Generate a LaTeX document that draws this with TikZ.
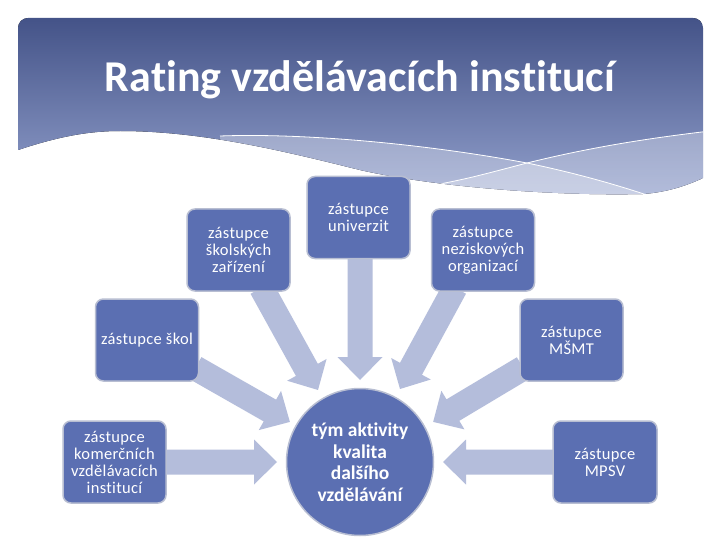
\documentclass[tikz,border=0pt]{standalone}
\usepackage{fontspec}
\setmainfont[Ligatures=NoCommon]{Carlito}
\newfontfamily\boxfont[LetterSpace=2,Ligatures=NoCommon]{Carlito}
\usetikzlibrary{calc}
\definecolor{boxblue}{RGB}{91,111,178}
\definecolor{boxedge}{RGB}{184,190,210}
\definecolor{arrowcol}{RGB}{180,189,219}
\definecolor{headtop}{RGB}{68,83,136}
\definecolor{headbot}{RGB}{146,160,204}
\pgfdeclarelayer{bg}
\pgfdeclarelayer{arrows}
\pgfsetlayers{bg,arrows,main}
\newcommand\blockarr[2]{%
  \fill[arrowcol] let \p1=(#1), \p2=(#2), \n1={atan2(\y2-\y1,\x2-\x1)}, \n2={veclen(\x2-\x1,\y2-\y1)} in
  [shift={(\p1)}, rotate=\n1]
  (0pt,-12.5pt) -- (\n2-23pt,-12.5pt) -- (\n2-23pt,-22.5pt) -- (\n2,0pt)
  -- (\n2-23pt,22.5pt) -- (\n2-23pt,12.5pt) -- (0pt,12.5pt) -- cycle;}
\begin{document}
\begin{tikzpicture}[x=1pt,y=-1pt,
  box/.style={draw=boxedge, line width=1.5pt, fill=boxblue, rounded corners=8pt,
    minimum width=103pt, minimum height=82pt, text=white, align=center,
    font=\boxfont\fontsize{16.5}{17}\selectfont, inner sep=2pt},
  hub/.style={circle, draw=boxedge, line width=1.5pt, fill=boxblue, minimum size=147pt,
    inner sep=0pt, text=white, align=center, font=\bfseries\fontsize{19.5}{21.5}\selectfont},
  wline/.style={draw=white, line width=0.8pt},
  veil/.style={fill=white, opacity=0.3}]
\useasboundingbox (0,0) rectangle (720,540);
\begin{pgfonlayer}{bg}
  \fill[white] (0,0) rectangle (720,540);
  \begin{scope}
    \clip (18,150) [rounded corners=10pt] -- (18,18) -- (703,18) [sharp corners] -- (703,178)
      .. controls (690,184) and (670,192) .. (643,194)
      .. controls (560,196) and (440,188) .. (360,170)
      .. controls (280,150) and (200,131) .. (120,131)
      .. controls (90,131) and (60,136) .. (18,150) -- cycle;
    \fill[top color=headtop, bottom color=headbot] (18,18) rectangle (703,196);
    \fill[veil] (220,136) .. controls (300,133) and (420,143) .. (527,163)
      .. controls (580,174) and (620,186) .. (650,196) -- (650,260) -- (220,260) -- cycle;
    \fill[veil] (430,186) .. controls (470,178) .. (527,163)
      .. controls (600,145) and (660,137) .. (710,131) -- (710,260) -- (430,260) -- cycle;
    \draw[wline] (220,136) .. controls (300,133) and (420,143) .. (527,163)
      .. controls (580,174) and (620,186) .. (650,196);
    \draw[wline] (430,186) .. controls (470,178) .. (527,163)
      .. controls (600,145) and (660,137) .. (710,131);
  \end{scope}
\end{pgfonlayer}
\node[text=white, font=\bfseries\fontsize{44}{50}\selectfont, anchor=base, inner sep=0pt] (title) at (360,92) {Rating vzdělávacích institucí};
\node[box] (facil) at (238.5,250) {zástupce\\školských\\zařízení};
\node[box] (univ) at (358.5,217.5) {zástupce\\univerzit};
\node[box] (ngo) at (483,250) {zástupce\\neziskových\\organizací};
\node[box] (schools) at (147,340) {zástupce škol};
\node[box] (msmt) at (571.5,340) {zástupce\\MŠMT};
\node[box] (comm) at (114.5,462) {zástupce\\komerčních\\vzdělávacích\\institucí};
\node[box, minimum width=104pt] (mpsv) at (605,462) {zástupce\\MPSV};
\node[hub] (team) at (360,462) {tým aktivity\\kvalita\\dalšího\\vzdělávání};
\coordinate (tuniv) at (360,380);
\coordinate (tfacil) at (318,390);
\coordinate (tngo) at (400,389);
\coordinate (tschools) at (290,422);
\coordinate (tmsmt) at (433,422);
\coordinate (tcomm) at (277,462);
\coordinate (tmpsv) at (443,462);
\begin{pgfonlayer}{arrows}
  \blockarr{[xshift=1.5pt,yshift=4pt]univ.south}{tuniv}
  \blockarr{[xshift=23pt,yshift=4pt]facil.south}{tfacil}
  \blockarr{[xshift=-28pt,yshift=4pt]ngo.south}{tngo}
  \blockarr{[xshift=-4pt,yshift=-28pt]schools.east}{tschools}
  \blockarr{[xshift=4pt,yshift=-28pt]msmt.west}{tmsmt}
  \blockarr{[xshift=-4pt]comm.east}{tcomm}
  \blockarr{[xshift=4pt]mpsv.west}{tmpsv}
\end{pgfonlayer}
\end{tikzpicture}
\end{document}
